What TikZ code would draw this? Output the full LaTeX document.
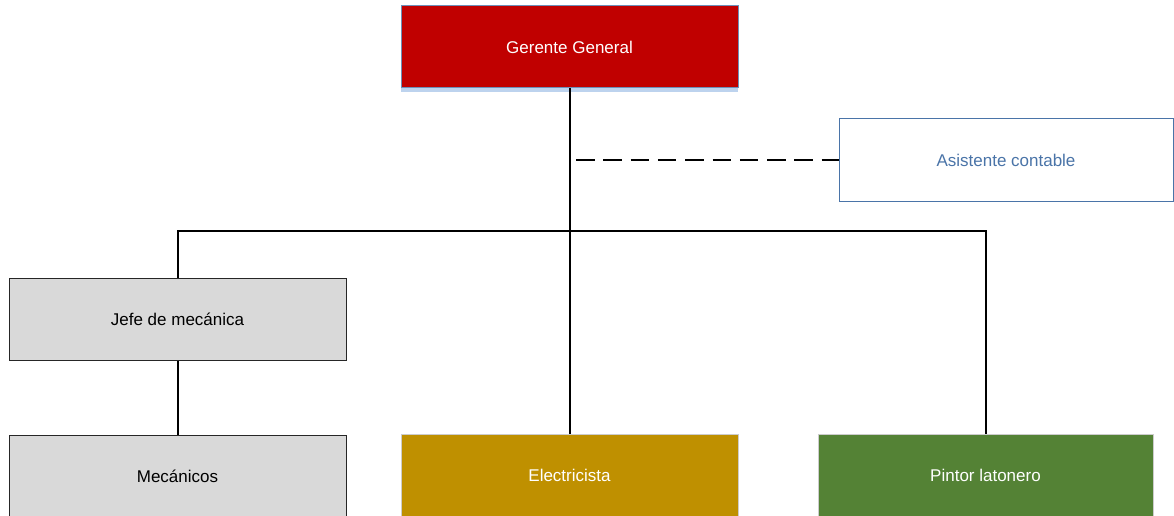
\documentclass[tikz,border=0pt]{standalone}
\usepackage{fontspec}
\setmainfont{Liberation Sans}
\usetikzlibrary{positioning,shadows}

\definecolor{gerred}{HTML}{C00000}
\definecolor{mecgray}{HTML}{D9D9D9}
\definecolor{elecgold}{HTML}{BF9000}
\definecolor{pintgreen}{HTML}{548235}
\definecolor{asisblue}{HTML}{4A74A8}
\definecolor{shadeblue}{HTML}{BDD3EE}

\begin{document}
\begin{tikzpicture}[x=1pt,y=-1pt,
	puesto/.style={rectangle,minimum width=337pt,minimum height=82pt,inner sep=0pt,font=\fontsize{17}{20}\selectfont},
	gerente/.style={puesto,fill=gerred,draw=asisblue!80,line width=1pt,text=white,drop shadow={shadow xshift=0pt,shadow yshift=-4pt,fill=shadeblue,opacity=1}},
	asistente/.style={puesto,minimum width=334pt,fill=white,draw=asisblue,line width=1pt,text=asisblue},
	jefe/.style={puesto,fill=mecgray,draw=black!85,line width=1pt},
	electr/.style={puesto,fill=elecgold,draw=black!20,line width=1pt,text=white},
	pintor/.style={puesto,minimum width=335pt,fill=pintgreen,draw=black!20,line width=1pt,text=white},
	linea/.style={line width=2pt},
	apoyo/.style={line width=2.2pt,dash pattern=on 18.5pt off 8.8pt}]
	\useasboundingbox (0,0) rectangle (1174,516);

	\node[gerente]							(ger)	at (569.5,47)	{Gerente General};
	\node[asistente]						(asis)	at (1006,160)	{Asistente contable};
	\node[jefe]								(jefe)	at (177.5,319)	{Jefe de mecánica};
	\node[jefe,node distance=74pt,below=of jefe]	(mec)	{Mecánicos};
	\node[electr]							(elec)	at (569.5,475)	{Electricista};
	\node[pintor]							(pint)	at (985.5,475)	{Pintor latonero};

	\coordinate (bus) at (569.5,231);
	\coordinate (apo) at (576,160);

	\draw[linea] (ger.south) -- (elec.north);
	\draw[linea] (jefe.north) |- (bus) -| (pint.north);
	\draw[linea] (jefe.south) -- (mec.north);
	\draw[apoyo] (apo) -- (asis.west);
\end{tikzpicture}
\end{document}
